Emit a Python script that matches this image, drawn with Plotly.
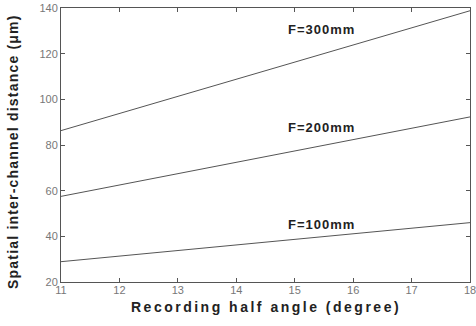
import plotly.graph_objects as go

angles = [11, 18]
f300 = [86.3, 138.8]
f200 = [57.5, 92.3]
f100 = [28.9, 46.0]
series = [("F=300mm", f300), ("F=200mm", f200), ("F=100mm", f100)]
label_pos = [(15.45, 130.5), (15.45, 87.5), (15.45, 45.3)]
x_ticks = [11, 12, 13, 14, 15, 16, 17, 18]
y_ticks = [20, 40, 60, 80, 100, 120, 140]

FONT = "Liberation Sans, Arial"


def spaced(t, px):
    return '<span style="letter-spacing:%spx"><b>%s</b></span>' % (px, t)


fig = go.Figure()
for (name, vals) in series:
    fig.add_trace(go.Scatter(x=angles, y=vals, mode="lines", name=name,
                             line=dict(color="#555555", width=1), showlegend=False))
for (name, _), (lx, ly) in zip(series, label_pos):
    fig.add_annotation(x=lx, y=ly, text=spaced(name, 1), showarrow=False,
                       font=dict(family=FONT, size=13, color="#222222"))

fig.add_annotation(xref="paper", yref="paper", x=-0.117, y=0.475, xanchor="center", yanchor="middle",
                   text=spaced("Spatial inter-channel distance (μm)", 1.2), textangle=-90, showarrow=False,
                   font=dict(family=FONT, size=14, color="#222222"))
fig.add_annotation(xref="paper", yref="paper", x=0.5, y=-0.091, xanchor="center", yanchor="middle",
                   text=spaced("Recording half angle (degree)", 2.5), showarrow=False,
                   font=dict(family=FONT, size=14, color="#222222"))

axis_common = dict(showgrid=False, zeroline=False, showline=True, linecolor="#555555", linewidth=1,
                   mirror="ticks", ticks="inside", ticklen=4, tickcolor="#555555", automargin=False,
                   ticklabeloverflow="allow",
                   tickfont=dict(family=FONT, size=11, color="#777777"))
fig.update_xaxes(range=[11, 18], tickvals=x_ticks, ticklabelstandoff=-2, **axis_common)
fig.update_yaxes(range=[20, 140], tickvals=y_ticks, **axis_common)
fig.update_layout(width=476, height=326, margin=dict(l=61, r=6, t=8, b=44),
                  plot_bgcolor="white", paper_bgcolor="white")
fig.write_html("out.html", config={"displayModeBar": False},
               post_script="document.body.style.margin='0';document.body.style.overflow='hidden';")
